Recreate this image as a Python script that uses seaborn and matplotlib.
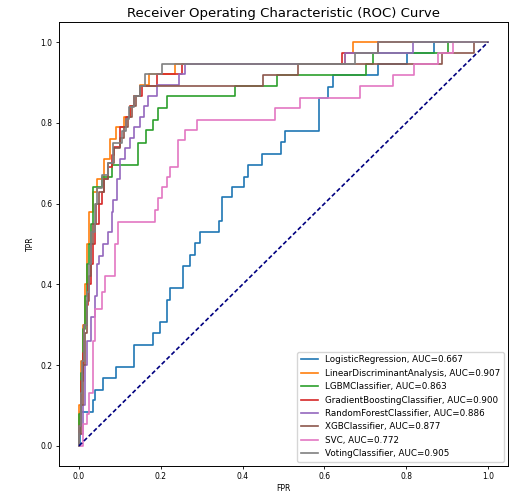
import pandas as pd
import matplotlib
matplotlib.use("Agg")
import matplotlib.pyplot as plt
import seaborn as sns

# ROC curves: each list pair holds the fpr where the curve
# steps up and the tpr it reaches there
models = ["LogisticRegression", "LinearDiscriminantAnalysis", "LGBMClassifier",
          "GradientBoostingClassifier", "RandomForestClassifier", "XGBClassifier",
          "SVC", "VotingClassifier"]
aucs = [0.667, 0.907, 0.863, 0.900, 0.886, 0.877, 0.772, 0.905]

lr_fpr = [0, 0.003, 0.035, 0.039, 0.059, 0.09, 0.134, 0.182, 0.198, 0.214, 0.222, 0.254,
          0.271, 0.284, 0.296, 0.342, 0.35, 0.373, 0.404, 0.414, 0.447, 0.493, 0.504, 0.588,
          0.61, 0.622, 0.732, 0.801, 0.869, 1.0]
lr_tpr = [0, 0.085, 0.114, 0.139, 0.168, 0.196, 0.25, 0.279, 0.308, 0.361, 0.39, 0.445,
          0.473, 0.502, 0.529, 0.558, 0.617, 0.642, 0.667, 0.696, 0.723, 0.753, 0.78, 0.862,
          0.889, 0.918, 0.947, 0.974, 1.0, 1.0]

lda_fpr = [0, 0, 0.005, 0.01, 0.015, 0.02, 0.025, 0.035, 0.045, 0.06, 0.075, 0.09, 0.11,
           0.125, 0.135, 0.15, 0.17, 0.235, 0.65, 0.669, 1.0]
lda_tpr = [0, 0.1, 0.21, 0.3, 0.4, 0.5, 0.58, 0.63, 0.66, 0.71, 0.76, 0.79, 0.816, 0.842,
           0.868, 0.895, 0.921, 0.947, 0.974, 1.0, 1.0]

lgbm_fpr = [0, 0, 0.005, 0.01, 0.015, 0.02, 0.025, 0.03, 0.035, 0.055, 0.08, 0.145, 0.164,
            0.182, 0.194, 0.214, 0.381, 0.483, 0.703, 0.718, 0.903, 1.0]
lgbm_tpr = [0, 0.08, 0.18, 0.29, 0.37, 0.45, 0.5, 0.55, 0.642, 0.667, 0.696, 0.75, 0.782,
            0.807, 0.836, 0.868, 0.891, 0.918, 0.947, 0.974, 1.0, 1.0]

gb_fpr = [0, 0, 0.005, 0.01, 0.012, 0.02, 0.022, 0.03, 0.035, 0.04, 0.05, 0.055, 0.06, 0.07,
          0.08, 0.085, 0.1, 0.115, 0.125, 0.135, 0.155, 0.19, 0.253, 0.643, 0.732, 1.0]
gb_tpr = [0, 0.05, 0.16, 0.23, 0.3, 0.35, 0.4, 0.45, 0.5, 0.55, 0.6, 0.63, 0.66, 0.69, 0.72,
          0.74, 0.79, 0.816, 0.842, 0.868, 0.891, 0.921, 0.947, 0.974, 1.0, 1.0]

rf_fpr = [0, 0, 0.01, 0.015, 0.02, 0.03, 0.04, 0.045, 0.05, 0.059, 0.072, 0.08, 0.084, 0.092,
          0.099, 0.112, 0.125, 0.135, 0.15, 0.16, 0.169, 0.19, 0.245, 0.259, 0.65, 0.817, 1.0]
rf_tpr = [0, 0.03, 0.1, 0.2, 0.26, 0.32, 0.37, 0.45, 0.47, 0.5, 0.53, 0.58, 0.61, 0.66, 0.71,
          0.737, 0.763, 0.79, 0.816, 0.842, 0.868, 0.895, 0.921, 0.947, 0.974, 1.0, 1.0]

xgb_fpr = [0, 0, 0.005, 0.01, 0.015, 0.02, 0.025, 0.03, 0.035, 0.042, 0.05, 0.06, 0.072,
           0.085, 0.1, 0.11, 0.12, 0.13, 0.14, 0.15, 0.449, 0.535, 0.887, 0.965, 1.0]
xgb_tpr = [0, 0.03, 0.1, 0.2, 0.28, 0.36, 0.42, 0.5, 0.55, 0.6, 0.63, 0.66, 0.7, 0.737,
           0.763, 0.79, 0.816, 0.842, 0.868, 0.891, 0.918, 0.947, 0.974, 1.0, 1.0]

svc_fpr = [0, 0.01, 0.02, 0.025, 0.035, 0.04, 0.055, 0.064, 0.088, 0.096, 0.186, 0.194,
           0.202, 0.214, 0.222, 0.243, 0.259, 0.289, 0.479, 0.54, 0.687, 0.769, 0.82, 0.877,
           0.915, 1.0]
svc_tpr = [0, 0.053, 0.079, 0.13, 0.26, 0.34, 0.38, 0.42, 0.5, 0.555, 0.584, 0.613, 0.642,
           0.667, 0.692, 0.757, 0.782, 0.807, 0.836, 0.862, 0.891, 0.918, 0.946, 0.974, 1.0,
           1.0]

vote_fpr = [0, 0, 0.004, 0.008, 0.013, 0.02, 0.025, 0.03, 0.038, 0.045, 0.055, 0.07, 0.082,
            0.105, 0.115, 0.123, 0.135, 0.148, 0.161, 0.202, 0.675, 0.732, 1.0]
vote_tpr = [0, 0.05, 0.13, 0.21, 0.3, 0.38, 0.45, 0.53, 0.6, 0.64, 0.67, 0.7, 0.75, 0.78,
            0.81, 0.84, 0.868, 0.891, 0.921, 0.947, 0.974, 1.0, 1.0]

curves = [(lr_fpr, lr_tpr), (lda_fpr, lda_tpr), (lgbm_fpr, lgbm_tpr), (gb_fpr, gb_tpr),
          (rf_fpr, rf_tpr), (xgb_fpr, xgb_tpr), (svc_fpr, svc_tpr), (vote_fpr, vote_tpr)]


def stairs(fpr, tpr):
    # go right at the previous tpr, then straight up at each fpr
    xs, ys = [fpr[0]], [tpr[0]]
    for i in range(1, len(fpr)):
        xs += [fpr[i], fpr[i]]
        ys += [tpr[i - 1], tpr[i]]
    return pd.DataFrame({"fpr": xs, "tpr": ys})


colors = sns.color_palette("tab10", 8)

fig = plt.figure(figsize=(5.23, 4.96), dpi=100)
ax = fig.add_axes([0.112, 0.0605, 0.860, 0.895])

for i, name in enumerate(models):
    d = stairs(*curves[i])
    sns.lineplot(data=d, x="fpr", y="tpr", sort=False, estimator=None, ax=ax,
                 color=colors[i], lw=1.2, label=f"{name}, AUC={aucs[i]:.3f}")

diag = pd.DataFrame({"fpr": [0, 1], "tpr": [0, 1]})
sns.lineplot(data=diag, x="fpr", y="tpr", ax=ax, color="navy", lw=1.2,
             linestyle=(0, (2.6, 1.5)))

ax.set_title("Receiver Operating Characteristic (ROC) Curve", fontsize=9.5, pad=4)
ax.set_xlabel("FPR", fontsize=5.5, labelpad=2)
ax.set_ylabel("TPR", fontsize=5.5, labelpad=4)
ax.tick_params(labelsize=5.5, length=2.5, width=0.6, pad=2)
for s in ax.spines.values():
    s.set_linewidth(0.7)
ax.legend(loc="lower right", fontsize=6.3, framealpha=0.8, handlelength=2)

fig.savefig("out.png", dpi=100)
